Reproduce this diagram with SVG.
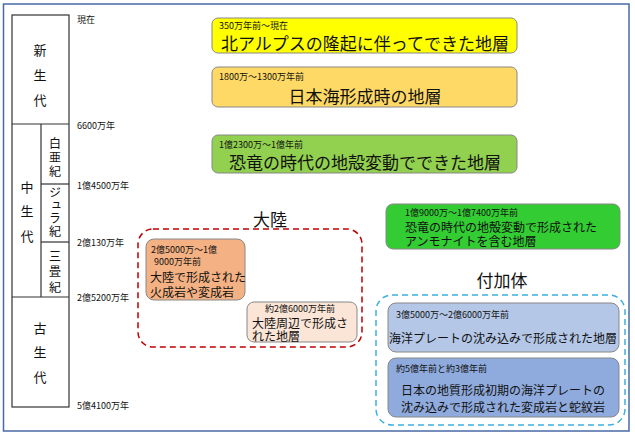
<svg xmlns="http://www.w3.org/2000/svg" width="635" height="435" viewBox="0 0 635 435">
<style>
text{font-family:"Noto Sans CJK JP","Noto Sans CJK SC",sans-serif;fill:#111}
.tbl{fill:none;stroke:#333;stroke-width:1.2}
.era{font-size:13px;writing-mode:vertical-rl}
.per{font-size:12px;writing-mode:vertical-rl}
.age{font-size:9px}
.box{stroke:#888;stroke-width:1}
.sm{font-size:9px}
.big{font-size:17px;text-anchor:middle}
.mid{font-size:12px}
.lbl{font-size:17px;text-anchor:middle}
</style>
<rect x="3.5" y="4" width="625.5" height="427" fill="#fff" stroke="#4a6aa5" stroke-width="1.5"/>
<g id="timeline">
<rect class="tbl" x="12" y="15" width="57" height="392"/>
<line class="tbl" x1="12" y1="124" x2="69" y2="124"/>
<line class="tbl" x1="12" y1="297" x2="69" y2="297"/>
<line class="tbl" x1="41" y1="124" x2="41" y2="297"/>
<line class="tbl" x1="41" y1="184" x2="69" y2="184"/>
<line class="tbl" x1="41" y1="242" x2="69" y2="242"/>
<text class="era" x="40" y="43.5" letter-spacing="12">新生代</text>
<text class="era" x="27" y="180.5" letter-spacing="11.5">中生代</text>
<text class="per" x="55" y="137" letter-spacing="2">白亜紀</text>
<text class="per" x="55" y="186" letter-spacing="1.3">ジュラ紀</text>
<text class="per" x="55" y="250" letter-spacing="3.5">三畳紀</text>
<text class="era" x="40" y="321.5" letter-spacing="11.5">古生代</text>
<text class="age" x="77" y="23">現在</text>
<text class="age" x="77" y="129">6600万年</text>
<text class="age" x="77" y="189">1億4500万年</text>
<text class="age" x="77" y="246">2億130万年</text>
<text class="age" x="77" y="301">2億5200万年</text>
<text class="age" x="77" y="409">5億4100万年</text>
</g>
<g id="alps">
<rect class="box" x="212" y="18" width="305" height="35" rx="6" fill="#ffff00"/>
<text class="sm" x="219" y="28.5">350万年前～現在</text>
<text class="big" x="365" y="50" font-size="16">北アルプスの隆起に伴ってできた地層</text>
</g>
<g id="japansea">
<rect class="box" x="212" y="67" width="305" height="40" rx="6" fill="#ffd966"/>
<text class="sm" x="219" y="79.5">1800万～1300万年前</text>
<text class="big" x="365" y="103" font-size="18">日本海形成時の地層</text>
</g>
<g id="dino1">
<rect class="box" x="212" y="135" width="305" height="38" rx="6" fill="#92d050"/>
<text class="sm" x="219" y="147.5">1億2300万～1億年前</text>
<text class="big" x="365" y="169" font-size="18">恐竜の時代の地殻変動でできた地層</text>
</g>
<g id="dino2">
<rect class="box" x="386" y="204" width="234" height="45" rx="7" fill="#33cc33"/>
<text class="sm" x="405" y="216">1億9000万～1億7400万年前</text>
<text class="mid" x="405" y="231.5">恐竜の時代の地殻変動で形成された<tspan x="405" dy="14.5">アンモナイトを含む地層</tspan></text>
</g>
<g id="connectors"></g>
<g id="continent">
<text class="lbl" x="270" y="226">大陸</text>
<rect x="138" y="229" width="224" height="118" rx="15" fill="none" stroke="#c00000" stroke-width="1.5" stroke-dasharray="6,4"/>
</g>
<g id="cont1">
<rect class="box" x="146" y="239" width="99" height="61" rx="8" fill="#f4b183"/>
<text class="sm" x="151" y="253">2億5000万～1億<tspan x="154" dy="12">9000万年前</tspan></text>
<text class="mid" x="150" y="281.5" font-size="13">大陸で形成された<tspan x="150" dy="15">火成岩や変成岩</tspan></text>
</g>
<g id="cont2">
<rect class="box" x="247" y="302" width="110" height="40" rx="7" fill="#fbe5d6"/>
<text class="sm" x="300" y="311.5" text-anchor="middle">約2億6000万年前</text>
<text class="mid" x="252" y="327.5" font-size="13">大陸周辺で形成さ<tspan x="252" dy="13.5">れた地層</tspan></text>
</g>
<g id="accretion">
<text class="lbl" x="502" y="287">付加体</text>
<rect x="376" y="295" width="249" height="130" rx="16" fill="none" stroke="#3cb0e0" stroke-width="1.5" stroke-dasharray="6,4"/>
</g>
<g id="acc1">
<rect class="box" x="388" y="303" width="231" height="49" rx="8" fill="#b4c7e7"/>
<text class="sm" x="396" y="318">3億5000万～2億6000万年前</text>
<text class="mid" x="503" y="343" text-anchor="middle" font-size="12.5">海洋プレートの沈み込みで形成された地層</text>
</g>
<g id="acc2">
<rect class="box" x="388" y="358" width="231" height="59" rx="8" fill="#8faadc"/>
<text class="sm" x="396" y="372">約5億年前と約3億年前</text>
<text class="mid" x="503" y="395" text-anchor="middle" font-size="12.5">日本の地質形成初期の海洋プレートの<tspan x="503" dy="17">沈み込みで形成された変成岩と蛇紋岩</tspan></text>
</g>
</svg>
